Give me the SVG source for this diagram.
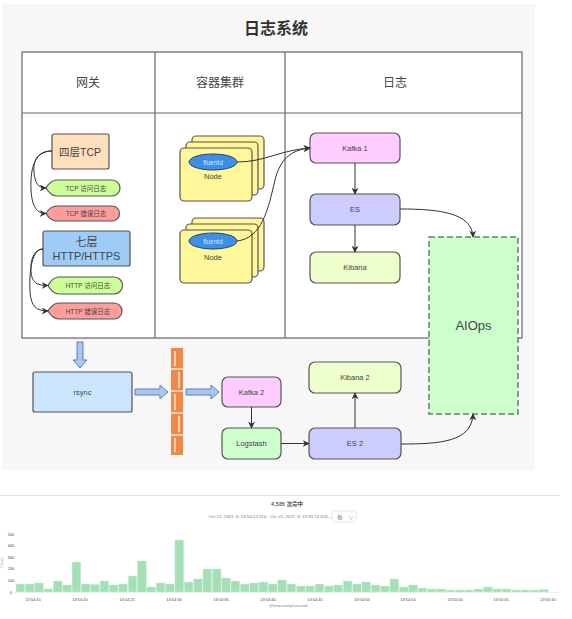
<svg xmlns="http://www.w3.org/2000/svg" width="572" height="619" viewBox="0 0 572 619">
<defs>
<style>
text{font-family:"Liberation Sans","Noto Sans CJK SC",sans-serif;fill:#444;text-anchor:middle}
.box{stroke:#555;stroke-width:1.2}
.ln{fill:none;stroke:#333;stroke-width:1}
.bar{fill:#a4dfb6;stroke:#c9eed4;stroke-width:0.5}
.ax{font-size:4px;fill:#999}
.blk{fill:#a9c6ec;stroke:#5f82b4;stroke-width:1}
</style>
<marker id="a" viewBox="0 0 10 10" refX="9" refY="5" markerWidth="7" markerHeight="7" orient="auto" markerUnits="userSpaceOnUse"><path d="M0,0 L10,5 L0,10 L3,5 Z" fill="#333"/></marker>
</defs>
<rect x="2" y="4" width="533" height="466" fill="#f7f7f7"/>
<text x="276" y="34" style="font-size:16px;font-weight:bold;fill:#333">日志系统</text>
<g id="table">
<rect x="22" y="52" width="500" height="286" fill="#fff" stroke="#666" stroke-width="1.2"/>
<line x1="22" y1="113" x2="522" y2="113" stroke="#666" stroke-width="1.2"/>
<line x1="155" y1="52" x2="155" y2="338" stroke="#666" stroke-width="1.2"/>
<line x1="285" y1="52" x2="285" y2="338" stroke="#666" stroke-width="1.2"/>
<text x="88" y="87" style="font-size:12px">网关</text>
<text x="220" y="87" style="font-size:12px">容器集群</text>
<text x="395" y="87" style="font-size:12px">日志</text>
</g>
<g id="tcp4"><rect class="box" x="52" y="134" width="57" height="35" rx="2" fill="#ffdfbd"/><text x="80" y="156" style="font-size:10.5px">四层TCP</text></g>
<g id="tcp-access"><path class="box" d="M46,188 Q50,181 56,180 L112,180 A8,8 0 0 1 112,196 L56,196 Q50,195 46,188 Z" fill="#ccff99"/><text x="86" y="191" style="font-size:6.5px">TCP 访问日志</text></g>
<g id="tcp-error"><path class="box" d="M46,213.5 Q50,206.5 56,206 L112,206 A7.5,7.5 0 0 1 112,221 L56,221 Q50,220.5 46,213.5 Z" fill="#ff9d9d"/><text x="86" y="216" style="font-size:6.5px">TCP 错误日志</text></g>
<g id="http7"><rect class="box" x="43" y="231" width="87" height="35" rx="2" fill="#9fcbf7"/><text x="86.5" y="246" style="font-size:11px">七层</text><text x="86.5" y="260" style="font-size:11px">HTTP/HTTPS</text></g>
<g id="http-access"><path class="box" d="M48,285.5 Q52,278 58,277 L114,277 A8,8 0 0 1 114,294 L58,294 Q52,293 48,285.5 Z" fill="#ccff99"/><text x="88" y="288" style="font-size:6.5px">HTTP 访问日志</text></g>
<g id="http-error"><path class="box" d="M48,311 Q52,304 58,303 L114,303 A8,8 0 0 1 114,319 L58,319 Q52,318 48,311 Z" fill="#ff9d9d"/><text x="88" y="313.5" style="font-size:6.5px">HTTP 错误日志</text></g>
<g id="node1">
<rect class="box" x="192" y="136" width="72" height="53" rx="4" fill="#fff79a"/>
<rect class="box" x="186" y="142" width="72" height="53" rx="4" fill="#fff79a"/>
<rect class="box" x="180" y="148" width="72" height="53" rx="4" fill="#fff79a"/>
<ellipse cx="213" cy="162" rx="24" ry="8" fill="#3f8fe4" stroke="#224477" stroke-width="1"/>
<text x="213" y="164.5" style="font-size:6.5px;fill:#d8e8ff">fluentd</text>
<text x="213" y="178.5" style="font-size:7.5px">Node</text>
</g>
<g id="node2">
<rect class="box" x="192" y="218" width="72" height="53" rx="4" fill="#fff79a"/>
<rect class="box" x="186" y="224" width="72" height="53" rx="4" fill="#fff79a"/>
<rect class="box" x="180" y="230" width="72" height="53" rx="4" fill="#fff79a"/>
<ellipse cx="213" cy="241" rx="24" ry="8" fill="#3f8fe4" stroke="#224477" stroke-width="1"/>
<text x="213" y="243.5" style="font-size:6.5px;fill:#d8e8ff">fluentd</text>
<text x="213" y="259.5" style="font-size:7.5px">Node</text>
</g>
<g id="kafka1"><rect class="box" x="310" y="133" width="90" height="30" rx="6" fill="#ffccff"/><text x="355" y="151" style="font-size:7.5px">Kafka 1</text></g>
<g id="es"><rect class="box" x="310" y="194" width="90" height="31" rx="6" fill="#ccccff"/><text x="355" y="212" style="font-size:7.5px">ES</text></g>
<g id="kibana"><rect class="box" x="310" y="252" width="90" height="31" rx="6" fill="#eeffcc"/><text x="355" y="270" style="font-size:7.5px">Kibana</text></g>
<g id="aiops"><rect x="429" y="237" width="89" height="177" fill="#ccffcc" stroke="#66806a" stroke-width="1.5" stroke-dasharray="6,3"/><text x="473.5" y="330" style="font-size:13px">AIOps</text></g>
<g id="rsync"><rect class="box" x="33" y="372" width="99" height="40" rx="2" fill="#cce5ff"/><text x="82.5" y="395" style="font-size:7.5px">rsync</text></g>
<g id="firewall">
<rect x="171" y="348" width="12" height="107" fill="#f0884a"/>
<g stroke="#fff" stroke-width="1.2">
<line x1="171" y1="369" x2="183" y2="369"/><line x1="171" y1="391" x2="183" y2="391"/><line x1="171" y1="413" x2="183" y2="413"/><line x1="171" y1="435" x2="183" y2="435"/>
<line x1="175" y1="351" x2="175" y2="366"/><line x1="179" y1="372" x2="179" y2="388"/><line x1="175" y1="394" x2="175" y2="410"/><line x1="179" y1="416" x2="179" y2="432"/><line x1="175" y1="438" x2="175" y2="452"/>
</g>
</g>
<g id="kafka2"><rect class="box" x="222" y="377" width="59" height="30" rx="6" fill="#ffccff"/><text x="251.5" y="395" style="font-size:7.5px">Kafka 2</text></g>
<g id="logstash"><rect class="box" x="222" y="428" width="59" height="31" rx="6" fill="#ccffcc"/><text x="251.5" y="446" style="font-size:7.5px">Logstash</text></g>
<g id="es2"><rect class="box" x="309" y="428" width="92" height="31" rx="6" fill="#ccccff"/><text x="355" y="446" style="font-size:7.5px">ES 2</text></g>
<g id="kibana2"><rect class="box" x="309" y="362" width="92" height="31" rx="6" fill="#eeffcc"/><text x="355" y="380" style="font-size:7.5px">Kibana 2</text></g>
<g id="connectors">
<path class="ln" marker-end="url(#a)" d="M52,151 C38,151 33,160 34,172 C35,183 38,188 46,188"/>
<path class="ln" marker-end="url(#a)" d="M52,151 C36,151 30,165 31,190 C32,207 37,213.5 46,213.5"/>
<path class="ln" marker-end="url(#a)" d="M43,249 C34,249 30,260 31,272 C32,282 36,285.5 48,285.5"/>
<path class="ln" marker-end="url(#a)" d="M43,249 C32,249 29,270 30,292 C31,306 36,311 48,311"/>
<path class="ln" marker-end="url(#a)" d="M237,162 C265,162 280,150 310,148"/>
<path class="ln" marker-end="url(#a)" d="M237,241 C262,238 268,210 275,180 C280,160 290,150 310,148"/>
<path class="ln" marker-end="url(#a)" d="M355,163 L355,194"/>
<path class="ln" marker-end="url(#a)" d="M355,225 L355,252"/>
<path class="ln" marker-end="url(#a)" d="M400,209 C440,209 472,213 473,237"/>
<path class="ln" marker-end="url(#a)" d="M251.5,407 L251.5,428"/>
<path class="ln" marker-end="url(#a)" d="M281,443.5 L309,443.5"/>
<path class="ln" marker-end="url(#a)" d="M355,428 L355,393"/>
<path class="ln" marker-end="url(#a)" d="M401,444 C440,444 472,442 473,414"/>
<path class="blk" d="M77,342 L83,342 L83,360 L87,360 L80,368 L73,360 L77,360 Z"/>
<path class="blk" d="M135,389 L160,389 L160,385 L168,392 L160,399 L160,395 L135,395 Z"/>
<path class="blk" d="M186,389 L211,389 L211,385 L219,392 L211,399 L211,395 L186,395 Z"/>
</g>
<g id="chart">
<line x1="0" y1="495.5" x2="560" y2="495.5" stroke="#e2e2e2" stroke-width="1"/>
<text x="287" y="506" style="font-size:5.5px;font-weight:bold;fill:#555">4,535 次命中</text>
<text x="271" y="518" style="font-size:4.4px;fill:#777">Oct 21, 2021 @ 13:54:12.614 - Oct 21, 2021 @ 13:55:12.614 —</text>
<rect x="332" y="511" width="24" height="11" rx="1.5" fill="#fff" stroke="#ddd" stroke-width="0.7"/>
<text x="340" y="518.5" style="font-size:5px;fill:#555">秒</text>
<text x="351" y="518.5" style="font-size:5px;fill:#999">∨</text>
<g class="ax" style="text-anchor:end">
<text x="11" y="535.5">500</text><text x="11" y="547">400</text><text x="11" y="558.5">300</text><text x="11" y="570">200</text><text x="11" y="581.5">100</text><text x="11" y="593.5">0</text>
</g>
<text x="0" y="0" transform="translate(3,563) rotate(-90)" style="font-size:3.8px;fill:#999">Count</text>
<line x1="14" y1="592.5" x2="558" y2="592.5" stroke="#e6e6e6" stroke-width="0.6"/>
<g>
<rect class="bar" x="16.0" y="584" width="8.6" height="8"/>
<rect class="bar" x="25.35" y="584" width="8.6" height="8"/>
<rect class="bar" x="34.7" y="583" width="8.6" height="9"/>
<rect class="bar" x="44.05" y="589" width="8.6" height="3"/>
<rect class="bar" x="53.4" y="581" width="8.6" height="11"/>
<rect class="bar" x="62.75" y="585" width="8.6" height="7"/>
<rect class="bar" x="72.1" y="562" width="8.6" height="30"/>
<rect class="bar" x="81.45" y="584" width="8.6" height="8"/>
<rect class="bar" x="90.8" y="584.5" width="8.6" height="7.5"/>
<rect class="bar" x="100.15" y="581" width="8.6" height="11"/>
<rect class="bar" x="109.5" y="585" width="8.6" height="7"/>
<rect class="bar" x="118.85" y="584" width="8.6" height="8"/>
<rect class="bar" x="128.2" y="576" width="8.6" height="16"/>
<rect class="bar" x="137.55" y="561" width="8.6" height="31"/>
<rect class="bar" x="146.9" y="587" width="8.6" height="5"/>
<rect class="bar" x="156.25" y="583" width="8.6" height="9"/>
<rect class="bar" x="165.6" y="584" width="8.6" height="8"/>
<rect class="bar" x="174.95" y="540" width="8.6" height="52"/>
<rect class="bar" x="184.3" y="582" width="8.6" height="10"/>
<rect class="bar" x="193.65" y="579" width="8.6" height="13"/>
<rect class="bar" x="203.0" y="569" width="8.6" height="23"/>
<rect class="bar" x="212.35" y="569" width="8.6" height="23"/>
<rect class="bar" x="221.7" y="578" width="8.6" height="14"/>
<rect class="bar" x="231.05" y="581" width="8.6" height="11"/>
<rect class="bar" x="240.4" y="584" width="8.6" height="8"/>
<rect class="bar" x="249.75" y="583" width="8.6" height="9"/>
<rect class="bar" x="259.1" y="582" width="8.6" height="10"/>
<rect class="bar" x="268.45" y="584" width="8.6" height="8"/>
<rect class="bar" x="277.8" y="580" width="8.6" height="12"/>
<rect class="bar" x="287.15" y="584" width="8.6" height="8"/>
<rect class="bar" x="296.5" y="586" width="8.6" height="6"/>
<rect class="bar" x="305.85" y="586" width="8.6" height="6"/>
<rect class="bar" x="315.2" y="584" width="8.6" height="8"/>
<rect class="bar" x="324.55" y="586" width="8.6" height="6"/>
<rect class="bar" x="333.9" y="585" width="8.6" height="7"/>
<rect class="bar" x="343.25" y="581" width="8.6" height="11"/>
<rect class="bar" x="352.6" y="584" width="8.6" height="8"/>
<rect class="bar" x="361.95" y="582" width="8.6" height="10"/>
<rect class="bar" x="371.3" y="585" width="8.6" height="7"/>
<rect class="bar" x="380.65" y="586" width="8.6" height="6"/>
<rect class="bar" x="390.0" y="579" width="8.6" height="13"/>
<rect class="bar" x="399.35" y="587" width="8.6" height="5"/>
<rect class="bar" x="408.7" y="585" width="8.6" height="7"/>
<rect class="bar" x="418.05" y="588" width="8.6" height="4"/>
<rect class="bar" x="427.4" y="589" width="8.6" height="3"/>
<rect class="bar" x="436.75" y="589" width="8.6" height="3"/>
<rect class="bar" x="446.1" y="590" width="8.6" height="2"/>
<rect class="bar" x="455.45" y="590" width="8.6" height="2"/>
<rect class="bar" x="464.8" y="590" width="8.6" height="2"/>
<rect class="bar" x="474.15" y="589" width="8.6" height="3"/>
<rect class="bar" x="483.5" y="587" width="8.6" height="5"/>
<rect class="bar" x="492.85" y="589" width="8.6" height="3"/>
<rect class="bar" x="502.2" y="589" width="8.6" height="3"/>
<rect class="bar" x="511.55" y="590" width="8.6" height="2"/>
<rect class="bar" x="520.9" y="590" width="8.6" height="2"/>
<rect class="bar" x="530.25" y="590" width="8.6" height="2"/>
<rect class="bar" x="539.6" y="589.5" width="8.6" height="2.5"/>
</g>
<g class="ax">
<text x="33" y="601">13:54:15</text><text x="80" y="601">13:54:20</text><text x="127" y="601">13:54:25</text><text x="174" y="601">13:54:30</text><text x="221" y="601">13:54:35</text><text x="268" y="601">13:54:40</text><text x="315" y="601">13:54:45</text><text x="362" y="601">13:54:50</text><text x="408" y="601">13:54:55</text><text x="455" y="601">13:55:00</text><text x="501" y="601">13:55:05</text><text x="548" y="601">13:55:10</text>
</g>
<text x="288" y="606.5" style="font-size:4.2px;fill:#888">@timestamp/second</text>
</g>
</svg>
